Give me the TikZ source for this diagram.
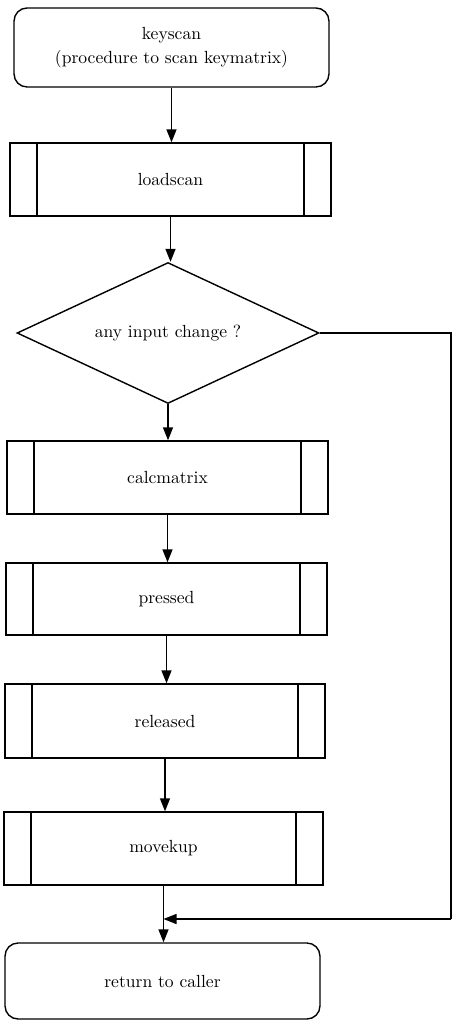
\documentclass[tikz,border=0pt]{standalone}
\usetikzlibrary{shapes.geometric,arrows.meta}
\begin{document}
\begin{tikzpicture}[x=0.02cm,y=-0.02cm,
  every node/.style={font=\normalsize, align=center, inner sep=0pt},
  box/.style={draw, line width=0.8pt},
  terminal/.style={box, rounded corners=0.26cm},
  predef/.style={box, path picture={
    \draw[line width=0.8pt] ([xshift=0.54cm]path picture bounding box.north west) -- ([xshift=0.54cm]path picture bounding box.south west);
    \draw[line width=0.8pt] ([xshift=-0.54cm]path picture bounding box.north east) -- ([xshift=-0.54cm]path picture bounding box.south east);}},
  decision/.style={box, diamond, aspect=2.14, minimum width=6.04cm, minimum height=2.82cm},
  flow/.style={line width=0.8pt, -{Triangle[length=0.26cm, width=0.2cm]}},
  plain/.style={line width=0.8pt}
]
\useasboundingbox (0,0) rectangle (452,1020);
\node[terminal, minimum width=6.3cm, minimum height=1.58cm] (start) at (171.5,47.5) {keyscan\\[2pt](procedure to scan keymatrix)};
\node[predef, minimum width=6.42cm, minimum height=1.46cm] (load) at (170.5,179.5) {loadscan};
\node[decision] (chg) at (168,333) {any input change ?};
\node[predef, minimum width=6.42cm, minimum height=1.46cm] (calc) at (167.5,477.5) {calcmatrix};
\node[predef, minimum width=6.42cm, minimum height=1.44cm] (press) at (166.5,599) {pressed};
\node[predef, minimum width=6.40cm, minimum height=1.48cm] (rel) at (165,721) {released};
\node[predef, minimum width=6.38cm, minimum height=1.46cm] (move) at (163.5,848.5) {movekup};
\node[terminal, minimum width=6.3cm, minimum height=1.52cm] (ret) at (162.5,981) {return to caller};
\coordinate (r1) at (451,333);
\coordinate (r2) at (451,919);
\coordinate (m) at (164,919);

\draw[flow] (start.south) -- (start.south |- load.north);
\draw[flow] (load.south) -- (load.south |- chg.north);
\draw[flow] (chg.south) -- (chg.south |- calc.north);
\draw[flow] (calc.south) -- (calc.south |- press.north);
\draw[flow] (press.south) -- (press.south |- rel.north);
\draw[flow] (rel.south) -- (rel.south |- move.north);
\draw[flow] (move.south) -- (move.south |- ret.north);
\draw[plain] (chg.east) -- (r1) -- (r2);
\draw[flow] (r2) -- (move.south |- m);
\end{tikzpicture}
\end{document}
